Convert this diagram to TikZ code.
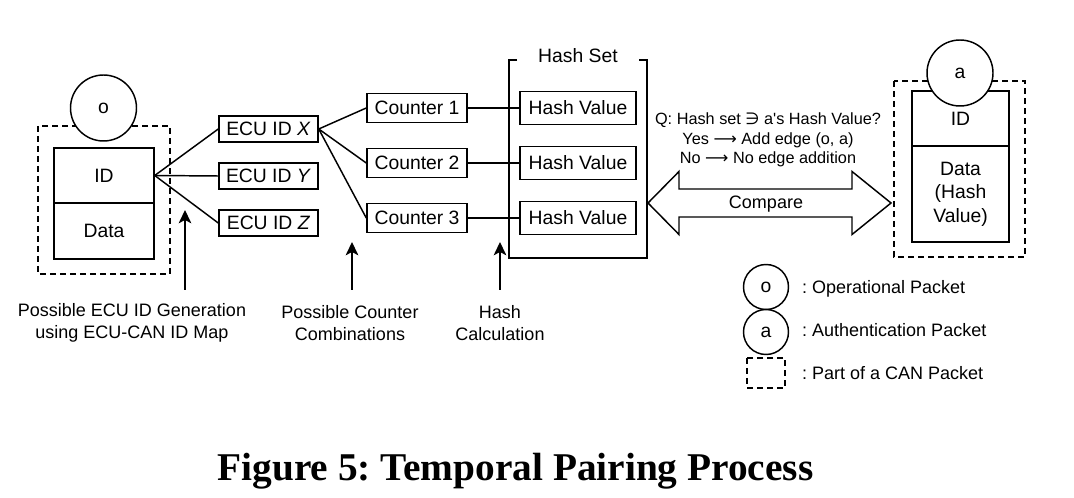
\documentclass[tikz,border=0pt]{standalone}
\usepackage{fontspec}
\setmainfont{Liberation Sans}
\newfontfamily\symfont{DejaVu Sans}
\newfontfamily\capfont{Liberation Serif}
\usetikzlibrary{arrows.meta}
\frenchspacing

\begin{document}
\begin{tikzpicture}[x=0.75pt,y=-0.75pt,line width=1.1pt,
    box/.style={draw,inner sep=0pt,font=\fontsize{14.5}{17.6}\selectfont},
    pkt/.style={draw,circle,fill=white,inner sep=0pt,minimum size=49.5pt,font=\fontsize{14.5}{17}\selectfont},
    lbl/.style={align=center,font=\fontsize{13.5}{16.5}\selectfont},
    part/.style={draw,dash pattern=on 4.5pt off 3pt},
    up/.style={-{Stealth[length=10pt,width=9.5pt,inset=2.5pt]}}]
\useasboundingbox (0,0) rectangle (1074,498);

\draw[part] (38,126) rectangle (170,274);
\node[box,minimum width=75pt,minimum height=41.25pt] (idO) at (104,175.5) {ID};
\node[box,minimum width=75pt,minimum height=42pt] (dataO) at (104,231) {Data};
\node[pkt] (o) at (103.5,108) {o};

\foreach \n/\y in {X/129,Y/176,Z/223} {
    \node[box,minimum width=74.25pt,minimum height=19.5pt] (ecu\n) at (268.5,\y) {ECU ID \textit{\n}};
    \draw (idO.east) -- (ecu\n.west);
}

\draw (517,60) -- (509,60) -- (509,258) -- (647,258) -- (647,60) -- (639,60);
\node[font=\fontsize{14.5}{17}\selectfont] (hset) at (578,56) {Hash Set};

\foreach \i/\y in {1/108,2/163,3/218} {
    \node[box,minimum width=75pt,minimum height=22pt] (cnt\i) at (417,\y) {Counter \i};
    \node[box,minimum width=87pt,minimum height=24.75pt] (hash\i) at (578,\y) {Hash Value};
    \draw (ecuX.east) -- (cnt\i.west);
    \draw (cnt\i) -- (hash\i);
}

\draw (648,203) -- (679,171.5) -- (679,189) -- (852,189) -- (852,171.5) -- (891,203)
    -- (852,234.5) -- (852,217) -- (679,217) -- (679,234.5) -- cycle;
\node[lbl] (cmp) at (766,204) {Compare};
\node[align=center,font=\fontsize{12.2}{14.6}\selectfont] (q) at (768,140)
    {Q: Hash set {\symfont ∋} a\textquotesingle s Hash Value?\\Yes {\symfont ⟶} Add edge (o, a)\\No {\symfont ⟶} No edge addition};

\draw[part] (894,81) rectangle (1025,257);
\node[box,minimum width=72.75pt,minimum height=41.25pt] (idA) at (960.5,118.5) {ID};
\node[box,minimum width=72.75pt,minimum height=72pt,align=center] (dataA) at (960.5,194) {Data\\(Hash\\Value)};
\node[pkt] (a) at (960,73) {a};

\coordinate (g0) at (185,290);
\coordinate (g1) at (185,210);
\coordinate (c0) at (352,290);
\coordinate (c1) at (352,242);
\coordinate (h0) at (500,290);
\coordinate (h1) at (500,242);
\draw[up] (g0) -- (g1);
\draw[up] (c0) -- (c1);
\draw[up] (h0) -- (h1);
\node[lbl] (gen) at (132,323) {Possible ECU ID Generation\\using ECU-CAN ID Map};
\node[lbl] (comb) at (350,323) {Possible Counter\\Combinations};
\node[lbl] (calc) at (500,323) {Hash\\Calculation};

\node[pkt,minimum size=33.75pt] (legO) at (766,287) {o};
\node[pkt,minimum size=33.75pt] (legA) at (766,332) {a};
\draw[part] (747,358) rectangle (785,388);
\node[lbl,anchor=base west] (txtO) at (797,293.5) {: Operational Packet};
\node[lbl,anchor=base west] (txtA) at (797,336.5) {: Authentication Packet};
\node[lbl,anchor=base west] (txtP) at (797,379.5) {: Part of a CAN Packet};

\node[font=\capfont\bfseries\fontsize{29.5}{34}\selectfont,anchor=base] (cap) at (515.5,480) {Figure 5: Temporal Pairing Process};
\end{tikzpicture}
\end{document}
